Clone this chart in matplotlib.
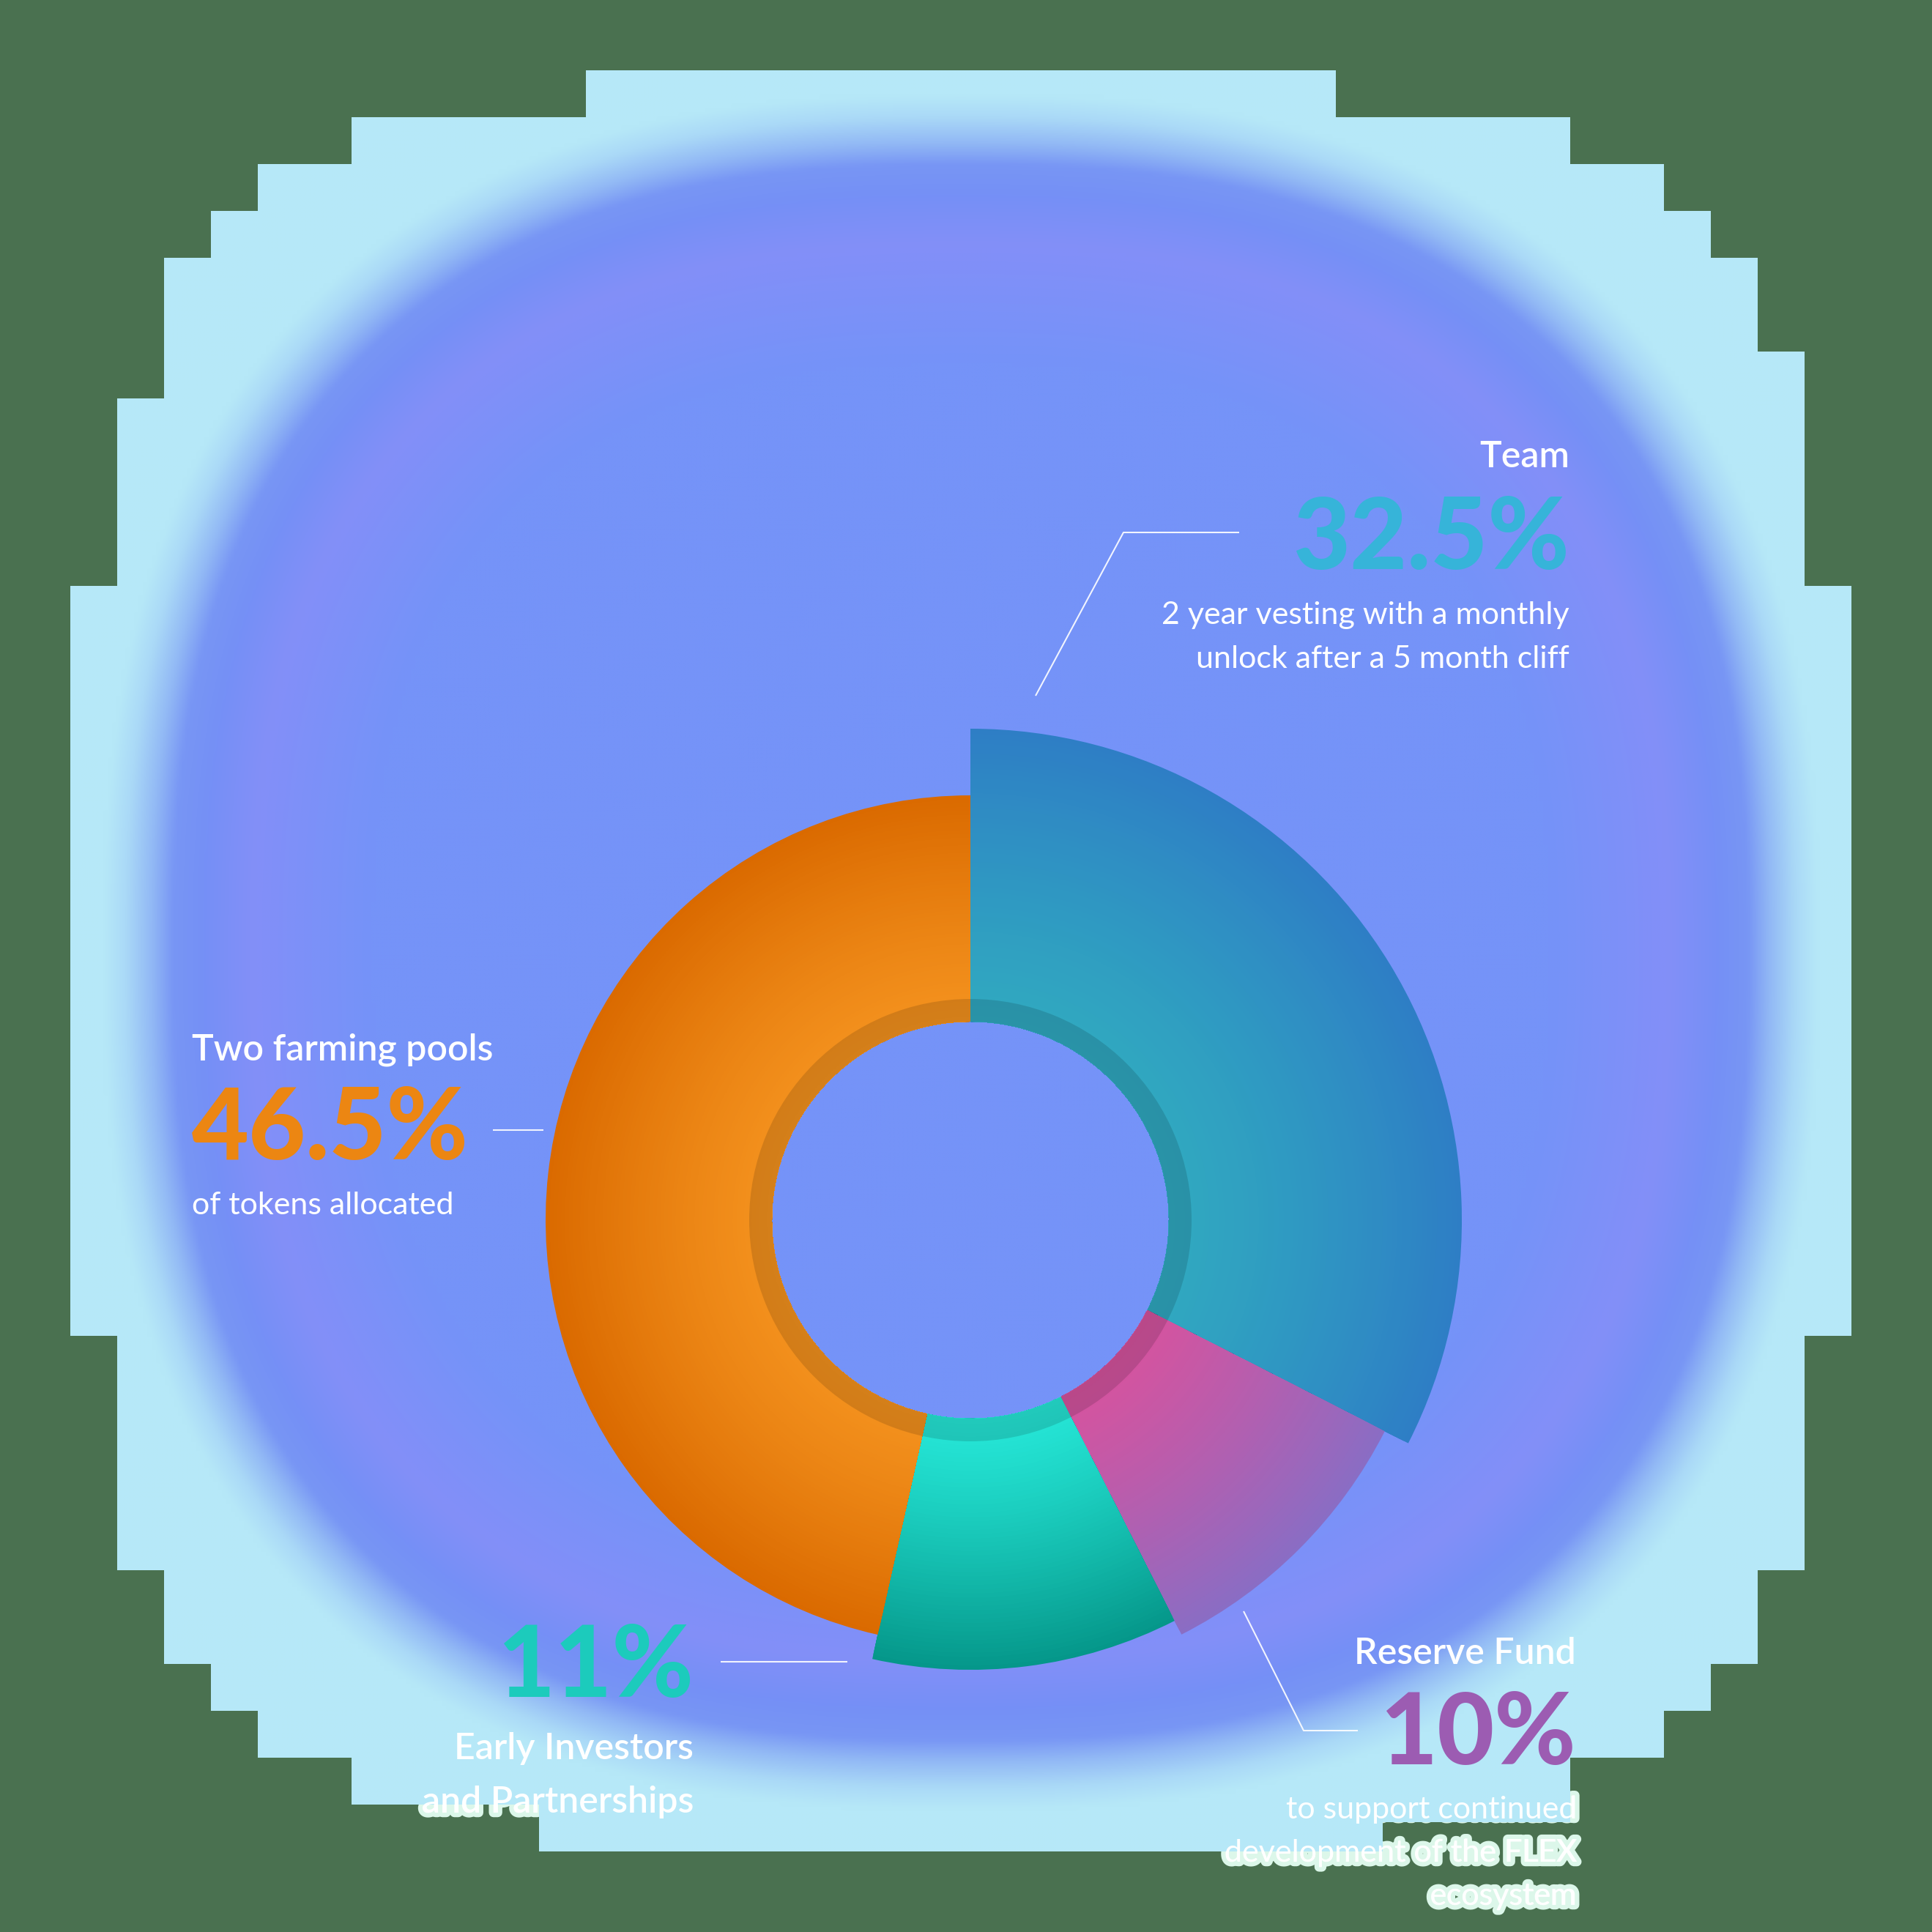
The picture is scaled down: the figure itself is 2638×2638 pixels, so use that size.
import numpy as np
import matplotlib
matplotlib.use("Agg")
import matplotlib.pyplot as plt
from matplotlib.patches import Wedge, Polygon
from matplotlib.colors import to_rgb
import matplotlib.patheffects as pe

# --------------------------------------------------------------------------- #
# Data (clockwise from 12 o'clock)
categories = ["Team", "Reserve Fund", "Early Investors", "Two farming pools"]
shares = [32.5, 10, 11, 46.5]
pct_labels = ["32.5%", "10%", "11%", "46.5%"]
title_lines = [["Team"], ["Reserve Fund"], ["Early Investors", "and Partnerships"], ["Two farming pools"]]
note_lines = [["2 year vesting with a monthly", "unlock after a 5 month cliff"],
              ["to support continued", "development of the FLEX", "ecosystem"],
              [],
              ["of tokens allocated"]]

# --------------------------------------------------------------------------- #
# Style
W = H = 2638
GREEN = "#4a7150"
inner_r = 271
outer_r = [671, 635, 614, 580]
inner_cols = ["#30a9c0", "#d6539e", "#26e8d8", "#f4921e"]
outer_cols = ["#2e7ec5", "#8a6dc4", "#05978a", "#da6a00"]
pct_cols = ["#36b4d9", "#9c5cb2", "#1ccbbc", "#ec8612"]

FAM = ["Lato", "DejaVu Sans"]


def Y(y):
    # pixel row (top down) -> data y (bottom up)
    return H - y


def mix(a, b, t):
    a, b = np.array(to_rgb(a)), np.array(to_rgb(b))
    return tuple(a + (b - a) * t)


fig = plt.figure(figsize=(W / 100, H / 100), dpi=100, facecolor=GREEN)
ax = fig.add_axes([0, 0, 1, 1])
ax.set_xlim(0, W)
ax.set_ylim(0, H)
ax.axis("off")

# === === === === === === === === === === === === === === === === === #
## stepped glow background
left_steps = [(96, 160, 800), (160, 224, 480), (224, 288, 352), (288, 352, 288),
              (352, 544, 224), (544, 800, 160), (800, 1824, 96), (1824, 2144, 160),
              (2144, 2272, 224), (2272, 2336, 288), (2336, 2400, 352),
              (2400, 2464, 480), (2464, 2528, 736)]
right_steps = [(96, 160, 1824), (160, 224, 2144), (224, 288, 2272), (288, 352, 2336),
               (352, 480, 2400), (480, 800, 2464), (800, 1824, 2528), (1824, 2144, 2464),
               (2144, 2272, 2400), (2272, 2336, 2336), (2336, 2400, 2272),
               (2400, 2488, 2144), (2488, 2528, 1888)]
pts = []
for y0, y1, x in right_steps:
    pts += [(x, Y(y0)), (x, Y(y1))]
for y0, y1, x in reversed(left_steps):
    pts += [(x, Y(y1)), (x, Y(y0))]
outline = Polygon(pts, closed=True, transform=ax.transData)

n = 440
gx = np.linspace(0, W, n)
GX, GY = np.meshgrid(gx, gx)
p = 2.5
dist = (np.abs(GX - 1312) ** p + np.abs(GY - 1300) ** p) ** (1 / p) - 1108
stops = [-3000, -300, -140, -70, -30, 0, 35, 65, 3000]
cols = ["#7593f8", "#7593f8", "#838ff8", "#7590f6", "#7896f4", "#92b9f5",
        "#aad9f7", "#b6e8f8", "#b9eaf8"]
rgb = np.array([to_rgb(c) for c in cols])
img = np.stack([np.interp(dist, stops, rgb[:, k]) for k in range(3)], axis=-1)
im = ax.imshow(img, extent=(0, W, 0, H), origin="upper", interpolation="bilinear", zorder=1)
im.set_clip_path(outline)

# === === === === === === === === === === === === === === === === === #
## donut with radial shading
cx, cy = 1325, Y(1666)
start = 90
for v, r_out, c_in, c_out in zip(shares, outer_r, inner_cols, outer_cols):
    span = v / 100 * 360
    t1, t2 = start - span, start
    start = t1
    for r in np.linspace(r_out, inner_r + 2, 60):
        t = (r - inner_r) / (r_out - inner_r)
        ax.add_patch(Wedge((cx, cy), r, t1, t2, width=r - inner_r,
                           facecolor=mix(c_in, c_out, t ** 1.2), lw=0, zorder=3))

# darker inner band
ax.add_patch(Wedge((cx, cy), 302, 0, 360, width=31, facecolor="black", alpha=0.13, lw=0, zorder=4))

# === === === === === === === === === === === === === === === === === #
## leader lines
leaders = [[(1414, 950), (1534, 727), (1692, 727)],
           [(1698, 2200), (1780, 2363), (1854, 2363)],
           [(984, 2269), (1157, 2269)],
           [(673, 1543), (742, 1543)]]
for pts_l in leaders:
    xs = [q[0] for q in pts_l]
    ys = [Y(q[1]) for q in pts_l]
    ax.plot(xs, ys, color="white", lw=1.5, alpha=0.9, zorder=5, solid_capstyle="butt")

# === === === === === === === === === === === === === === === === === #
## labels
title_kw = dict(family=FAM, weight="semibold", fontsize=36, color="white", zorder=6)
note_kw = dict(family=FAM, weight="normal", fontsize=31, color="white", zorder=6)
big_kw = dict(family=FAM, weight="black", fontsize=97, zorder=6)


def glow_text(x, y, s, ha, kw):
    # pale glow sits under the background image, so it only shows on the green
    ax.text(x, y, s, ha=ha, va="baseline",
            path_effects=[pe.withStroke(linewidth=9, foreground="#dcf7ea")],
            **{**kw, "zorder": 0.5})
    ax.text(x, y, s, ha=ha, va="baseline", **kw)


# Team (right aligned)
ax.text(2143, Y(638), title_lines[0][0], ha="right", va="baseline", **title_kw)
ax.text(2143, Y(777), pct_labels[0], ha="right", va="baseline", color=pct_cols[0], **big_kw)
for i, line in enumerate(note_lines[0]):
    ax.text(2143, Y(852 + 60 * i), line, ha="right", va="baseline", **note_kw)

# Reserve Fund (right aligned)
ax.text(2152, Y(2272), title_lines[1][0], ha="right", va="baseline", **title_kw)
ax.text(2152, Y(2409), pct_labels[1], ha="right", va="baseline", color=pct_cols[1], **big_kw)
for i, line in enumerate(note_lines[1]):
    glow_text(2152, Y(2483 + 59 * i), line, "right", note_kw)

# Early investors (right aligned)
ax.text(947, Y(2317), pct_labels[2], ha="right", va="baseline", color=pct_cols[2], **big_kw)
for i, line in enumerate(title_lines[2]):
    glow_text(947, Y(2402 + 73 * i), line, "right", title_kw)

# Farming pools (left aligned)
ax.text(262, Y(1447), title_lines[3][0], ha="left", va="baseline", **title_kw)
ax.text(262, Y(1583), pct_labels[3], ha="left", va="baseline", color=pct_cols[3], **big_kw)
ax.text(262, Y(1658), note_lines[3][0], ha="left", va="baseline", **note_kw)

fig.savefig("out.png", dpi=100, facecolor=GREEN)
